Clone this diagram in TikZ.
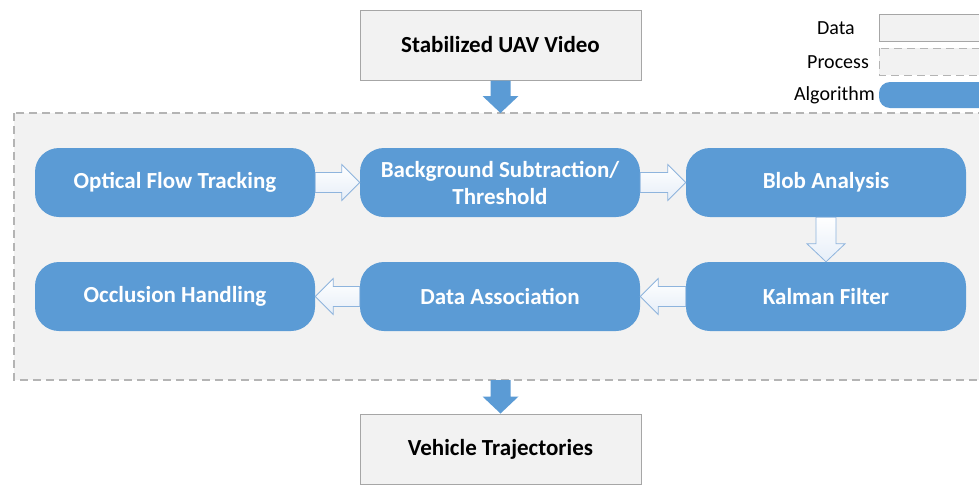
\documentclass[tikz,border=0pt]{standalone}
\usepackage{fontspec}
\setmainfont{Carlito}
\usetikzlibrary{calc}
\definecolor{algblue}{HTML}{5B9BD5}
\definecolor{boxgray}{HTML}{F2F2F2}
\definecolor{linegray}{HTML}{A6A6A6}
\definecolor{dashgray}{HTML}{B4B4B4}
\definecolor{arrowline}{HTML}{8EB4DD}
\definecolor{arrowfill}{HTML}{E6EEF8}
\tikzset{
  databox/.style={draw=linegray, fill=boxgray, line width=1pt, minimum width=281pt, minimum height=70pt, font=\fontsize{23}{27}\selectfont\bfseries, text=black, align=center},
  procbox/.style={draw=dashgray, fill=boxgray, line width=1.2pt, dash pattern=on 8pt off 5pt},
  algbox/.style={fill=algblue, rounded corners=24pt, minimum width=280pt, minimum height=69pt, font=\fontsize{23}{27}\selectfont\bfseries, text=white, align=center},
  hollow/.style={draw=arrowline, line width=0.8pt, top color=white, bottom color=arrowfill},
  solid/.style={fill=algblue},
  legtext/.style={font=\fontsize{20}{22}\selectfont, anchor=east, inner sep=0pt}
}
\begin{document}
\begin{tikzpicture}[x=1pt,y=-1pt]
\useasboundingbox (0,0) rectangle (979,485);
\clip (0,0) rectangle (979,485);
\fill[white] (0,0) rectangle (979,485);
% process region
\draw[procbox] (14,113) rectangle (1000,380);
% data boxes
\node[databox] (src) at (500.5,45) {Stabilized UAV Video};
\node[databox] (dst) at (500.5,449) {Vehicle Trajectories};
% legend
\node[legtext] (ldata) at (855,28) {Data};
\node[legtext] (lproc) at (869,62) {Process};
\node[legtext] (lalg) at (875,95) {Algorithm};
\draw[draw=linegray, fill=boxgray, line width=1pt] (879,14) rectangle (1000,41);
\draw[procbox, line width=1pt] (879,48) rectangle (1000,75);
\fill[algblue, rounded corners=11pt] (879,82) rectangle (1010,108);
% algorithm nodes
\node[algbox] (oft) at (175,182.5) {Optical Flow Tracking};
\node[algbox] (bgs) at (500,182.5) {Background Subtraction/\\Threshold};
\node[algbox] (blob) at (826,182.5) {Blob Analysis};
\node[algbox] (occ) at (175,296.5) {Occlusion Handling};
\node[algbox] (dass) at (500,296.5) {Data Association};
\node[algbox] (kal) at (826,296.5) {Kalman Filter};
% hollow arrows right
\foreach \a/\b in {oft/bgs, bgs/blob}{
  \draw[hollow] let \p1=(\a.east), \p2=(\b.west) in
    (\x1,\y1+10pt) -- (\x2-18pt,\y1+10pt) -- (\x2-18pt,\y1+18pt) -- (\x2,\y1)
    -- (\x2-18pt,\y1-18pt) -- (\x2-18pt,\y1-10pt) -- (\x1,\y1-10pt) -- cycle;
}
% hollow arrows left
\foreach \a/\b in {kal/dass, dass/occ}{
  \draw[hollow] let \p1=(\a.west), \p2=(\b.east) in
    (\x1,\y1+10pt) -- (\x2+18pt,\y1+10pt) -- (\x2+18pt,\y1+18pt) -- (\x2,\y1)
    -- (\x2+18pt,\y1-18pt) -- (\x2+18pt,\y1-10pt) -- (\x1,\y1-10pt) -- cycle;
}
% hollow arrow down
\draw[hollow] let \p1=(blob.south), \p2=(kal.north) in
  (\x1-10pt,\y1) -- (\x1-10pt,\y2+18pt) -- (\x1-19pt,\y2+18pt) -- (\x1,\y2)
  -- (\x1+19pt,\y2+18pt) -- (\x1+10pt,\y2+18pt) -- (\x1+10pt,\y1) -- cycle;
% solid arrows
\coordinate (ptop) at (500.5,113);
\coordinate (pbot) at (500.5,380);
\fill[solid] let \p1=(src.south), \p2=(ptop) in
  (\x1-10pt,\y1) -- (\x1-10pt,\y2+17pt) -- (\x1-18pt,\y2+17pt) -- (\x1,\y2)
  -- (\x1+18pt,\y2+17pt) -- (\x1+10pt,\y2+17pt) -- (\x1+10pt,\y1) -- cycle;
\fill[solid] let \p1=(pbot), \p2=(dst.north) in
  (\x1-10pt,\y1) -- (\x1-10pt,\y2+17pt) -- (\x1-18pt,\y2+17pt) -- (\x1,\y2)
  -- (\x1+18pt,\y2+17pt) -- (\x1+10pt,\y2+17pt) -- (\x1+10pt,\y1) -- cycle;
\end{tikzpicture}
\end{document}
